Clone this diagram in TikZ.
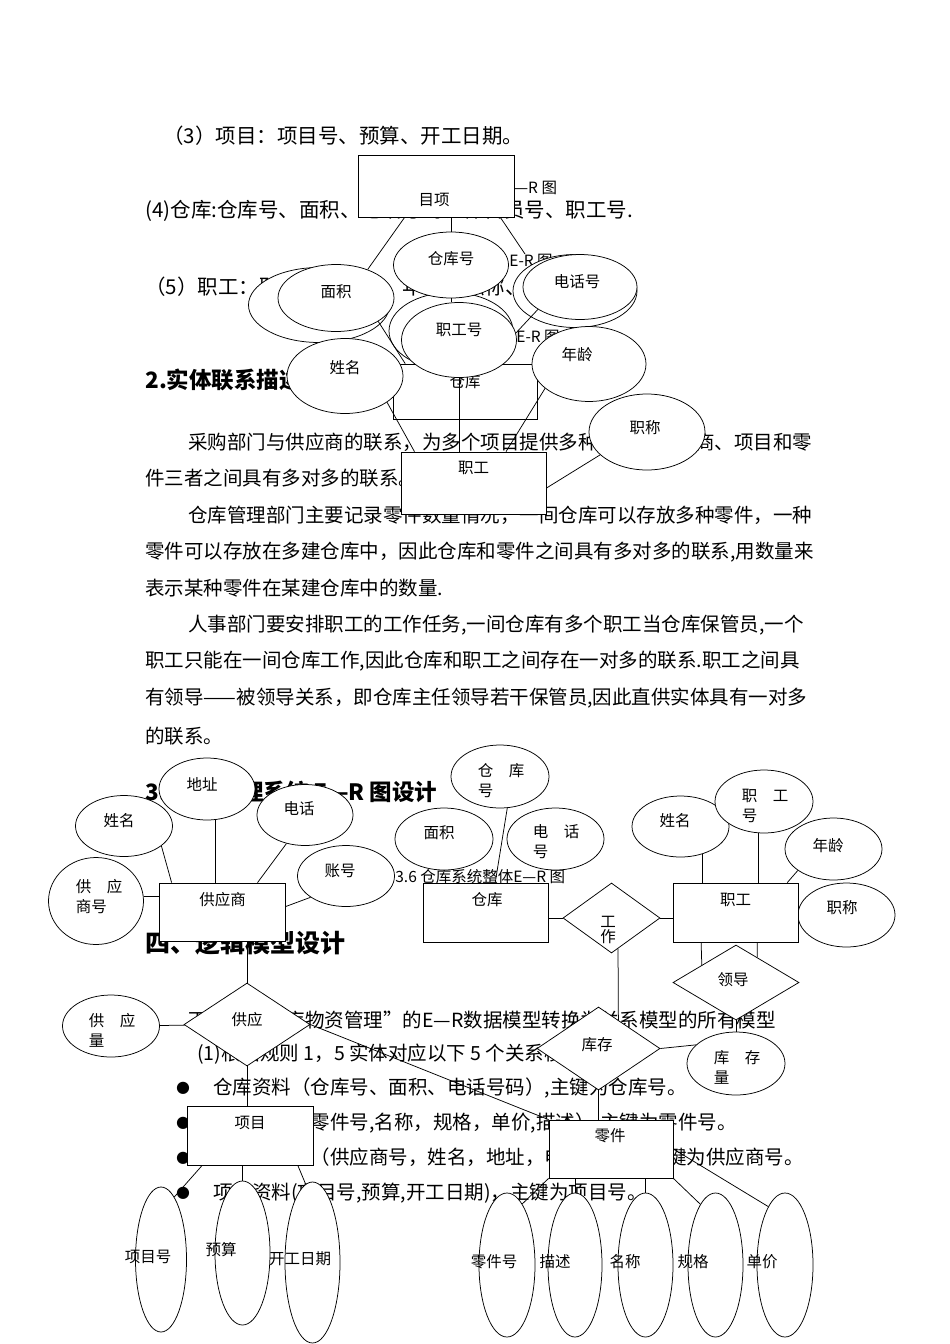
\documentclass[tikz,border=0pt]{standalone}
\usepackage{fontspec}
\setmainfont{Noto Sans CJK SC}
\newfontfamily\dotfont{DejaVu Sans}
\usetikzlibrary{shapes.geometric}

\newcommand\bodyfont{\fontsize{19.5pt}{24pt}\selectfont}
\newcommand\leadfont{\fontsize{20.5pt}{24pt}\selectfont}
\newcommand\headfont{\fontsize{22.5pt}{26pt}\selectfont\bfseries}
\newcommand\bigheadfont{\fontsize{25pt}{30pt}\selectfont\bfseries}
\newcommand\lblfont{\fontsize{15.5pt}{20pt}\selectfont}
\newcommand\capfont{\fontsize{15.5pt}{18pt}\selectfont}

\begin{document}
\begin{tikzpicture}[x=1pt,y=-1pt,line width=0.75pt,every label/.style={inner sep=0pt,font=\lblfont}]
  \tikzstyle{txt}=[anchor=west,inner sep=0pt,font=\bodyfont]
  \tikzstyle{captxt}=[anchor=west,inner sep=0pt,font=\capfont]
  \tikzstyle{ent}=[draw,fill=white,rectangle,inner sep=0pt]
  \tikzstyle{att}=[draw,fill=white,ellipse,inner sep=0pt]
  \tikzstyle{rel}=[draw,fill=white,diamond,inner sep=0pt]
  \path[fill=white,use as bounding box] (0,0) rectangle (950,1344);

  % Page text behind the figures
  \node[txt,font=\leadfont] (ln3) at (163,136) {（3）项目：项目号、预算、开工日期。};
  \node[txt,font=\leadfont] (ln4) at (145,211) {(4)仓库:仓库号、面积、电话号码、保管员号、职工号.};
  \node[txt,font=\leadfont] (ln5) at (145,287) {（5）职工：职工号、姓名、年龄、职称、仓库号。};
  \node[txt,font=\headfont] (h2) at (145,380) {2.实体联系描述};
  \node[txt] (p1) at (188,442) {采购部门与供应商的联系，为多个项目提供多种零件，供应商、项目和零};
  \node[txt] (p2) at (145,478) {件三者之间具有多对多的联系。};
  \node[txt] (p3) at (188,515) {仓库管理部门主要记录零件数量情况，一间仓库可以存放多种零件，一种};
  \node[txt] (p4) at (145,552) {零件可以存放在多建仓库中，因此仓库和零件之间具有多对多的联系,用数量来};
  \node[txt] (p5) at (145,588) {表示某种零件在某建仓库中的数量.};
  \node[txt] (p6) at (188,625) {人事部门要安排职工的工作任务,一间仓库有多个职工当仓库保管员,一个};
  \node[txt] (p7) at (145,661) {职工只能在一间仓库工作,因此仓库和职工之间存在一对多的联系.职工之间具};
  \node[txt] (p8) at (145,698) {有领导——被领导关系，即仓库主任领导若干保管员,因此直供实体具有一对多};
  \node[txt] (p9) at (145,736) {的联系。};
  \node[txt,font=\headfont] (h3) at (145,792) {3. 仓库管理系统 E—R 图设计};
  \node[captxt] (cap36) at (395,877) {3.6 仓库系统整体E—R 图};
  \node[txt,font=\bigheadfont] (h4) at (145,943) {四、逻辑模型设计};
  \node[txt] (r0) at (188,1020) {下面将“仓库物资管理”的E—R数据模型转换为关系模型的所有模型};
  \node[txt] (r1) at (197,1054) {(1)根据规则 1，5 实体对应以下 5 个关系模式:};
  \node[font=\dotfont\fontsize{16pt}{16pt}\selectfont,inner sep=0pt] (d1) at (183,1088) {●};
  \node[font=\dotfont\fontsize{16pt}{16pt}\selectfont,inner sep=0pt] (d2) at (183,1123) {●};
  \node[font=\dotfont\fontsize{16pt}{16pt}\selectfont,inner sep=0pt] (d3) at (183,1158) {●};
  \node[font=\dotfont\fontsize{16pt}{16pt}\selectfont,inner sep=0pt] (d4) at (183,1193) {●};
  \node[txt] (b1) at (213,1088) {仓库资料（仓库号、面积、电话号码）,主键为仓库号。};
  \node[txt] (b2) at (213,1123) {零件资料（零件号,名称，规格，单价,描述）,主键为零件号。};
  \node[txt] (b3) at (213,1158) {供应商资料（供应商号，姓名，地址，电话号码）,主键为供应商号。};
  \node[txt] (b4) at (213,1193) {项目资料(项目号,预算,开工日期)，主键为项目号。};

  % Captions of the earlier figures
  \node[captxt] (cap33) at (514,188) {—R 图};
  \node[captxt] (cap34) at (509,261) {E-R 图};
  \node[captxt] (cap35) at (516,337) {E-R 图};

  % Upper cluster of overlapping shapes
  \node[ent,minimum width=144pt,minimum height=55pt,label={[yshift=9.5pt]center:仓库}] (ck) at (465,391.5) {};
  \node[att,minimum width=141pt,minimum height=75pt] (mjb) at (319,305) {};
  \node[att,minimum width=116pt,minimum height=67pt,label={[yshift=6pt]center:面积}] (mj) at (336,298) {};
  \node[att,minimum width=124pt,minimum height=77pt] (zghb) at (451,331) {};
  \node[att,minimum width=115pt,minimum height=66pt,label={[yshift=6pt]center:仓库号}] (ckh) at (451,265) {};
  \node[att,minimum width=115pt,minimum height=75pt,label={[yshift=10pt]center:职工号}] (zgh) at (459,340) {};
  \node[att,minimum width=124pt,minimum height=73pt] (dhhb) at (575,291) {};
  \node[att,minimum width=114pt,minimum height=65pt,label={[xshift=-3pt,yshift=5pt]center:电话号}] (dhh) at (580,287) {};
  \node[att,minimum width=116pt,minimum height=75pt,label={[yshift=8pt]center:姓名}] (xmg) at (345,376) {};
  \node[att,minimum width=114pt,minimum height=75pt,label={[xshift=-12pt,yshift=9pt]center:年龄}] (nl) at (589,364) {};
  \node[ent,minimum width=156pt,minimum height=62pt,label={[xshift=-2pt,yshift=-14pt]center:目项}] (xm) at (436,186) {};
  \node[ent,minimum width=145pt,minimum height=62pt,label={[yshift=15pt]center:职工}] (zg) at (473.5,483) {};
  \node[att,minimum width=116pt,minimum height=76pt,label={[xshift=-2pt,yshift=4pt]center:职称}] (zc) at (647,432) {};
  \coordinate (dhhtip) at (525,254);

  % Upper cluster links
  \draw (xm.-135) -- (mj.42);
  \draw (ckh.north) -- (ckh.north |- xm.south);
  \draw (xm.-26.6) -- (dhhtip);
  \draw (dhh.-152) -- (zgh.7);
  \draw (ckh.south) -- (ckh.south |- zgh.north);
  \draw (mj.-29) -- (ck.155);
  \draw (xmg.-32) -- (zg.152);
  \draw (zgh.south) -- (zgh.south |- zg.north);
  \draw (nl.-151) -- (zg.44);
  \draw (zc.-154) -- (zg.-4);

  % Supplier side
  \node[att,minimum width=96pt,minimum height=62pt,label={[xshift=-5pt,yshift=5pt]center:地址}] (dz) at (207,789) {};
  \node[att,minimum width=97pt,minimum height=61pt,label={[xshift=-5pt,yshift=5pt]center:姓名}] (xms) at (124,826) {};
  \node[att,minimum width=96pt,minimum height=61pt,label={[xshift=-6pt,yshift=6pt]center:电话}] (dh) at (305,815) {};
  \node[att,minimum width=97pt,minimum height=61pt,label={[xshift=-6pt,yshift=5pt]center:账号}] (zh) at (346,876) {};
  \node[att,minimum width=95pt,minimum height=87pt,label={[align=left,xshift=3pt,yshift=4pt]center:{供　应\\商号}}] (gysh) at (96,901) {};
  \node[ent,minimum width=126pt,minimum height=58pt,label={[yshift=12pt]center:供应商}] (gys) at (222.5,912) {};

  % Warehouse and staff side
  \node[att,minimum width=98pt,minimum height=63pt,label={[align=left,xshift=1pt,yshift=-4.5pt]center:{仓　库\\号}}] (ckh2) at (500,776.5) {};
  \node[att,minimum width=98pt,minimum height=62pt,label={[xshift=-5pt,yshift=6pt]center:面积}] (mj3) at (444,839) {};
  \node[att,minimum width=97pt,minimum height=62pt,label={[align=left,xshift=0.5pt,yshift=-3pt]center:{电　话\\号}}] (dhh3) at (555.5,839) {};
  \node[ent,minimum width=125pt,minimum height=59pt,label={[xshift=1.5pt,yshift=12.5pt]center:仓库}] (ck2) at (485.5,912.5) {};
  \node[rel,minimum width=97pt,minimum height=70pt,label={[align=center,xshift=-3.5pt,yshift=-12pt]center:{工\\[-5pt]作}}] (gz) at (611.5,918) {};
  \node[att,minimum width=97pt,minimum height=61pt,label={[xshift=-5.5pt,yshift=5.5pt]center:姓名}] (xmz) at (680.5,826.5) {};
  \node[att,minimum width=98pt,minimum height=63pt,label={[align=left,xshift=1pt,yshift=-4.5pt]center:{职　工\\号}}] (zgh3) at (764,801.5) {};
  \node[att,minimum width=97pt,minimum height=62pt,label={[xshift=-5.5pt,yshift=3pt]center:年龄}] (nl2) at (833.5,849) {};
  \node[att,minimum width=97pt,minimum height=64pt,label={[xshift=-4.5pt,yshift=7pt]center:职称}] (zc2) at (846.5,915) {};
  \node[ent,minimum width=125pt,minimum height=59pt,label={[yshift=12.5pt]center:职工}] (zg2) at (735.5,912.5) {};
  \node[rel,minimum width=126pt,minimum height=75pt,label={[xshift=-3pt,yshift=2.5pt]center:领导}] (ld) at (736,982.5) {};

  % Relations in the lower half
  \node[rel,minimum width=126pt,minimum height=83pt,label={[yshift=4.5pt]center:供应}] (gy) at (247,1024.5) {};
  \node[att,minimum width=97pt,minimum height=62pt,label={[align=left,xshift=1pt,yshift=-4.5pt]center:{供　应\\量}}] (gyl) at (111,1026) {};
  \node[rel,minimum width=123pt,minimum height=83pt,label={[xshift=-1.5pt,yshift=3.5pt]center:库存}] (kc) at (598.5,1048.5) {};
  \node[att,minimum width=98pt,minimum height=63pt,label={[align=left,xshift=1pt,yshift=-4pt]center:{库　存\\量}}] (kcl) at (736,1063.5) {};
  \node[ent,minimum width=126pt,minimum height=59pt,label={[yshift=12.5pt]center:项目}] (xmb) at (250,1135.5) {};
  \node[ent,minimum width=124pt,minimum height=58pt,label={[xshift=-1pt,yshift=13pt]center:零件}] (lj) at (611,1149) {};

  % Tall attribute ellipses at the bottom
  \node[att,minimum width=51pt,minimum height=145pt,label={[xshift=-13pt,yshift=2.5pt]center:项目号}] (xmh) at (161,1259.5) {};
  \node[att,minimum width=55pt,minimum height=144pt,label={[xshift=-21.5pt,yshift=3pt]center:预算}] (ys) at (242.5,1253) {};
  \node[att,minimum width=55pt,minimum height=161pt,label={[xshift=-12.5pt,yshift=3.5pt]center:开工日期}] (kgrq) at (312.5,1262.5) {};
  \node[att,minimum width=56pt,minimum height=144pt,label={[xshift=-13pt,yshift=3pt]center:零件号}] (ljh) at (507,1265) {};
  \node[att,minimum width=54pt,minimum height=144pt,label={[xshift=-20pt,yshift=3pt]center:描述}] (ms) at (575,1265) {};
  \node[att,minimum width=55pt,minimum height=144pt,label={[xshift=-20.5pt,yshift=3pt]center:名称}] (mc) at (645.5,1265) {};
  \node[att,minimum width=55pt,minimum height=144pt,label={[xshift=-22.5pt,yshift=3pt]center:规格}] (gg) at (715.5,1265) {};
  \node[att,minimum width=56pt,minimum height=144pt,label={[xshift=-23pt,yshift=3pt]center:单价}] (dj) at (785,1265) {};

  % Lower links
  \draw (dz.-75) -- (dz.-75 |- gys.north);
  \draw (xms.-28) -- (gys.150);
  \draw (dh.-123) -- (gys.40);
  \draw (zh.-149) -- (gys.5);
  \draw (gysh.5) -- (gysh.5 -| gys.west);
  \draw (gy.north) -- (gy.north |- gys.south);
  \draw (gyl) -- (gy);
  \draw (gy.south) -- (gy.south |- xmb.north);
  \draw (gy.east) -- (lj.north west);
  \draw (xmb.-148) -- (xmh.78);
  \draw (ys.north) -- (ys.north |- xmb.south);
  \draw (xmb.-32) -- (kgrq.95);
  \draw (ckh2.-77) -- (ck2.72);
  \draw (gz.west) -- (gz.west -| ck2.east);
  \draw (gz.east) -- (gz.east -| zg2.west);
  \draw (gz.-78) -- (kc.55);
  \draw (zg2.-139) -- (ld.153);
  \draw (zg2.-54) -- (ld.50);
  \draw (xmz.-52) -- (xmz.-52 |- zg2.north);
  \draw (zgh3.-100) -- (zgh3.-100 |- zg2.north);
  \draw (nl2.-149) -- (zg2.30);
  \draw (kcl.north) -- (kcl.north |- ld.south);
  \draw (kc.east) -- (kcl.155);
  \draw (kc.south) -- (kc.south |- lj.north);
  \draw (lj.south west) -- (ljh.76);
  \draw (ms.north) -- (ms.north |- lj.south);
  \draw (mc.north) -- (mc.north |- lj.south);
  \draw (lj.south east) -- (gg.104);
  \draw (lj.east) -- (dj.106);
\end{tikzpicture}
\end{document}
